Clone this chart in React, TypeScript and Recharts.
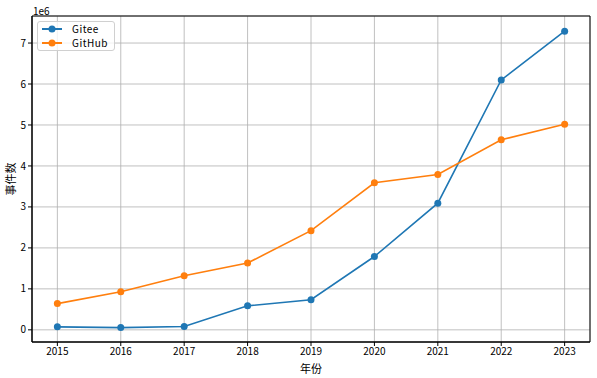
import { LineChart, Line, XAxis, YAxis, CartesianGrid, ReferenceArea } from 'recharts';

const years = [2015, 2016, 2017, 2018, 2019, 2020, 2021, 2022, 2023];
const gitee = [73000, 55000, 80000, 585000, 735000, 1790000, 3090000, 6100000, 7290000];
const github = [640000, 930000, 1320000, 1630000, 2420000, 3590000, 3790000, 4640000, 5020000];
const yTicks = [0, 1e6, 2e6, 3e6, 4e6, 5e6, 6e6, 7e6];

const FONT = '"Noto Sans CJK SC", "DejaVu Sans", sans-serif';
const X_DOMAIN: [number, number] = [2014.6, 2023.4];
const Y_DOMAIN: [number, number] = [-297000, 7660000];

const data = years.map((year, i) => ({ year, Gitee: gitee[i], GitHub: github[i] }));

const series = [
  { key: 'Gitee', color: '#1f77b4' },
  { key: 'GitHub', color: '#ff7f0e' }
];

function LegendBox() {
  return (
    <div
      style={{
        position: 'absolute',
        left: 37,
        top: 21,
        background: 'rgba(255,255,255,0.8)',
        border: '1px solid #d0d0d0',
        borderRadius: 3,
        padding: '0px 6px 0px 3px',
        fontFamily: FONT,
        fontSize: 10,
        color: '#000'
      }}
    >
      {series.map(s => (
        <div key={s.key} style={{ display: 'flex', alignItems: 'center', height: 14, overflow: 'hidden' }}>
          <svg width={22} height={10} style={{ marginRight: 9 }}>
            <line x1={1} y1={5} x2={21} y2={5} stroke={s.color} strokeWidth={2} />
            <circle cx={11} cy={5} r={3.5} fill={s.color} />
          </svg>
          <span style={{ letterSpacing: 0.5, lineHeight: '12px' }}>{s.key}</span>
        </div>
      ))}
    </div>
  );
}

// y-axis title, centred on the plot area like matplotlib's ylabel
const YTitle = (props: any) => {
  const { viewBox } = props;
  const cy = viewBox.y + viewBox.height / 2;
  return (
    <text
      x={10}
      y={cy}
      transform={`rotate(-90, 10, ${cy})`}
      textAnchor="middle"
      dominantBaseline="central"
      fill="#000"
      fontSize={11}
      fontFamily={FONT}
    >
      事件数
    </text>
  );
};

export default function App() {
  return (
    <div style={{ position: 'absolute', left: 0, top: 0, width: 597, height: 378, background: '#fff' }}>
      <LineChart width={597} height={378} data={data} margin={{ top: 16, right: 7, bottom: 0, left: 0 }}>
        <CartesianGrid stroke="#b0b0b0" strokeWidth={0.8} />
        <XAxis
          dataKey="year"
          type="number"
          domain={X_DOMAIN}
          ticks={years}
          allowDataOverflow
          height={36}
          tickSize={4}
          tickLine={{ stroke: '#000' }}
          axisLine={{ stroke: '#000' }}
          tick={{ fill: '#000', fontSize: 10, fontFamily: FONT }}
          label={{ value: '年份', position: 'insideBottom', offset: 5, fill: '#000', fontSize: 11, fontFamily: FONT }}
        />
        <YAxis
          type="number"
          domain={Y_DOMAIN}
          ticks={yTicks}
          allowDataOverflow
          width={32}
          tickSize={4}
          tickLine={{ stroke: '#000' }}
          axisLine={{ stroke: '#000' }}
          tickFormatter={(v: number) => String(v / 1e6)}
          tick={{ fill: '#000', fontSize: 10, fontFamily: FONT }}
          label={<YTitle />}
        />
        <ReferenceArea
          x1={X_DOMAIN[0]}
          x2={X_DOMAIN[1]}
          y1={Y_DOMAIN[0]}
          y2={Y_DOMAIN[1]}
          fill="none"
          stroke="#000"
          strokeWidth={1}
        />
        {series.map(s => (
          <Line
            key={s.key}
            dataKey={s.key}
            stroke={s.color}
            strokeWidth={1.6}
            dot={{ r: 3.5, fill: s.color, stroke: s.color, strokeWidth: 0 }}
            isAnimationActive={false}
          />
        ))}
      </LineChart>
      <LegendBox />
      <div style={{ position: 'absolute', left: 33, top: 3, fontFamily: FONT, fontSize: 10, color: '#000' }}>1e6</div>
    </div>
  );
}
